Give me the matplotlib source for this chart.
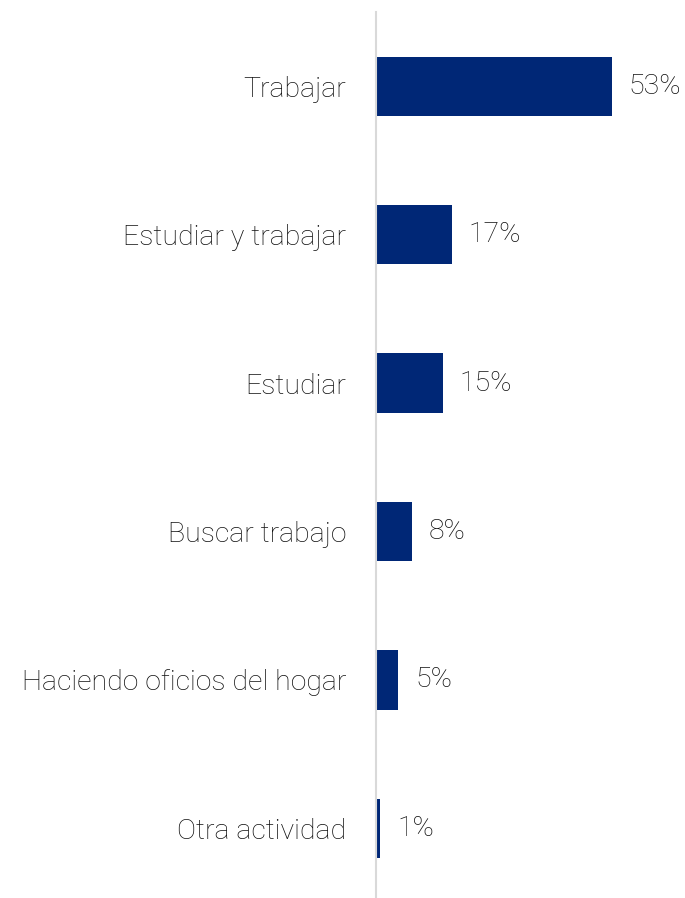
import matplotlib.pyplot as plt

plt.rcParams['font.family'] = ['Roboto', 'DejaVu Sans']

# datos
actividades = ['Trabajar', 'Estudiar y trabajar', 'Estudiar', 'Buscar trabajo',
               'Haciendo oficios del hogar', 'Otra actividad']
porcentajes = [53, 17, 15, 8, 5, 1]

color_barra = '#002776'
color_texto = '#111111'

fig = plt.figure(figsize=(6.85, 8.98), dpi=100)
ax = fig.add_axes([376 / 685, 0, 309 / 685, 886 / 898])

pos = range(len(actividades))
ax.barh(pos, porcentajes, height=0.4, color=color_barra)

for y, v in zip(pos, porcentajes):
    ax.text(v + 3.8, y, f'{v}%', va='center', ha='left', fontsize=20.5,
            fontweight='light', color=color_texto)

ax.set_yticks(list(pos))
ax.set_yticklabels(actividades, fontsize=20.5, fontweight='light', color=color_texto)
ax.tick_params(axis='y', length=0, pad=21.6)
ax.set_xticks([])
ax.set_xlim(0, 309 / 4.45)
ax.set_ylim(5.47, -0.5)

for s in ['top', 'right', 'bottom']:
    ax.spines[s].set_visible(False)
ax.spines['left'].set_color('#d9d9d9')
ax.spines['left'].set_linewidth(1.5)

fig.savefig('out.png', dpi=100)
